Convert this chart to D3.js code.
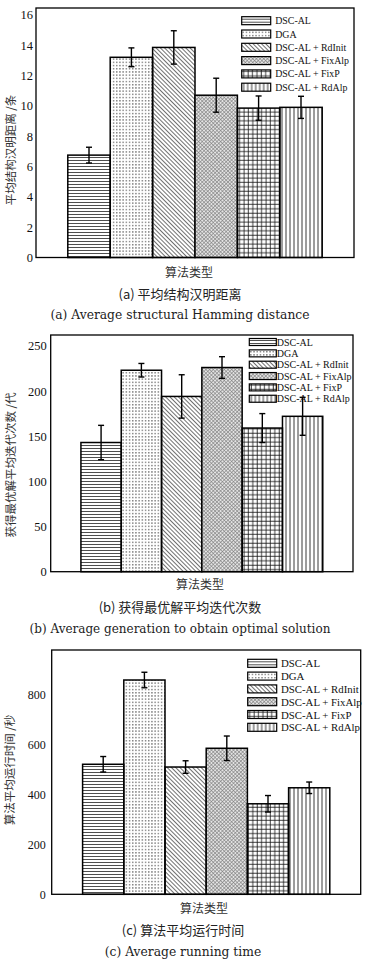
<!DOCTYPE html>
<html><head><meta charset="utf-8">
<script src="https://cdn.jsdelivr.net/npm/d3@7"></script>
<style>body{margin:0;background:#fff}svg{display:block}</style>
</head><body>
<script>
// ---- data ----
const categories = ["DSC-AL","DGA","DSC-AL + RdInit","DSC-AL + FixAlp","DSC-AL + FixP","DSC-AL + RdAlp"];
const hammingMean = [6.75, 13.2, 13.85, 10.7, 9.85, 9.9];
const hammingErr  = [0.52, 0.62, 1.1, 1.12, 0.8, 0.73];
const genMean = [143, 223, 194, 226, 159, 172];
const genErr  = [19, 7.5, 24, 12, 16, 21];
const timeMean = [520, 857, 509, 584, 362, 426];
const timeErr  = [31, 31, 25, 49, 33, 23];
const ticksA = [0,2,4,6,8,10,12,14,16];
const ticksB = [0,50,100,150,200,250];
const ticksC = [0,200,400,600,800];
const yLabels = ["平均结构汉明距离 /条","获得最优解平均迭代次数 /代","算法平均运行时间 /秒"];
const xLabel = "算法类型";
const captionsZh = ["(a) 平均结构汉明距离","(b) 获得最优解平均迭代次数","(c) 算法平均运行时间"];
const captionsEn = ["(a) Average structural Hamming distance","(b) Average generation to obtain optimal solution","(c) Average running time"];
const patternIds = ["p-h","p-dot","p-diag","p-cross","p-grid","p-v"];

const svg = d3.select("body").append("svg").attr("width",369).attr("height",969);
const defs = svg.append("defs");
// patterns
let p = defs.append("pattern").attr("id","p-h").attr("patternUnits","userSpaceOnUse").attr("width",4).attr("height",3);
p.append("line").attr("x1",0).attr("x2",4).attr("y1",1.5).attr("y2",1.5).attr("stroke","#222").attr("stroke-width",0.8);
p = defs.append("pattern").attr("id","p-dot").attr("patternUnits","userSpaceOnUse").attr("width",3.2).attr("height",3.2);
p.append("rect").attr("x",1).attr("y",1).attr("width",1.1).attr("height",1.1).attr("fill","#222");
p = defs.append("pattern").attr("id","p-diag").attr("patternUnits","userSpaceOnUse").attr("width",3).attr("height",3).attr("patternTransform","rotate(-45)");
p.append("line").attr("x1",1.5).attr("x2",1.5).attr("y1",0).attr("y2",3).attr("stroke","#333").attr("stroke-width",0.7);
p = defs.append("pattern").attr("id","p-cross").attr("patternUnits","userSpaceOnUse").attr("width",2.6).attr("height",2.6).attr("patternTransform","rotate(45)");
p.append("rect").attr("width",2.6).attr("height",2.6).attr("fill","#e6e6e6");
p.append("line").attr("x1",1.3).attr("x2",1.3).attr("y1",0).attr("y2",2.6).attr("stroke","#7a7a7a").attr("stroke-width",0.6);
p.append("line").attr("y1",1.3).attr("y2",1.3).attr("x1",0).attr("x2",2.6).attr("stroke","#7a7a7a").attr("stroke-width",0.6);
p = defs.append("pattern").attr("id","p-grid").attr("patternUnits","userSpaceOnUse").attr("width",4.4).attr("height",4.4);
p.append("line").attr("x1",2).attr("x2",2).attr("y1",0).attr("y2",4.4).attr("stroke","#111").attr("stroke-width",0.8);
p.append("line").attr("y1",2).attr("y2",2).attr("x1",0).attr("x2",4.4).attr("stroke","#111").attr("stroke-width",0.8);
p = defs.append("pattern").attr("id","p-v").attr("patternUnits","userSpaceOnUse").attr("width",4).attr("height",4);
p.append("line").attr("x1",2).attr("x2",2).attr("y1",0).attr("y2",4).attr("stroke","#222").attr("stroke-width",0.9);

const serif = "'Liberation Serif','Times New Roman',serif";
const cjk = "'Noto Sans CJK SC','Noto Sans CJK JP',sans-serif";
const capEn = "'DejaVu Serif','Liberation Serif',serif";

function drawPanel(cfg, means, errs, ticks, idx){
  const g = svg.append("g");
  const x = d3.scaleBand().domain(categories).range([cfg.left,cfg.right]).paddingInner(0).paddingOuter(0.75);
  const y = d3.scaleLinear().domain([0,cfg.ymax]).range([cfg.bottom,cfg.top]);
  // bars
  g.selectAll(".bar").data(categories).join("rect")
    .attr("x",d=>x(d)).attr("width",x.bandwidth())
    .attr("y",(d,i)=>y(means[i])).attr("height",(d,i)=>y(0)-y(means[i]))
    .attr("fill",(d,i)=>`url(#${patternIds[i]})`).attr("stroke","#000").attr("stroke-width",1.5);
  // error bars
  const eb = g.selectAll(".eb").data(categories).join("g");
  eb.append("line").attr("x1",d=>x(d)+x.bandwidth()/2).attr("x2",d=>x(d)+x.bandwidth()/2)
    .attr("y1",(d,i)=>y(means[i]+errs[i])).attr("y2",(d,i)=>y(means[i]-errs[i])).attr("stroke","#000").attr("stroke-width",1.4);
  [1,-1].forEach(s=>{
    eb.append("line").attr("x1",d=>x(d)+x.bandwidth()/2-3).attr("x2",d=>x(d)+x.bandwidth()/2+3)
      .attr("y1",(d,i)=>y(means[i]+s*errs[i])).attr("y2",(d,i)=>y(means[i]+s*errs[i])).attr("stroke","#000").attr("stroke-width",1.4);
  });
  // frame
  g.append("rect").attr("x",cfg.left).attr("y",cfg.top).attr("width",cfg.right-cfg.left).attr("height",cfg.bottom-cfg.top)
    .attr("fill","none").attr("stroke","#000").attr("stroke-width",1.3);
  // y axis tick labels
  const ax = d3.axisLeft(y).tickValues(ticks).tickSize(0).tickPadding(cfg.tickPad);
  const axg = g.append("g").attr("transform",`translate(${cfg.left},0)`).call(ax);
  axg.attr("font-family",serif).attr("font-size",cfg.tickFs);
  axg.select(".domain").remove();
  axg.selectAll("text").attr("fill","#111");
  // y label
  g.append("text").attr("transform",`translate(${cfg.ylabX},${cfg.ylabY}) rotate(-90)`).attr("text-anchor","middle")
    .attr("dominant-baseline","central").attr("font-family",cjk).attr("font-size",11.5).attr("fill","#333").text(yLabels[idx]);
  // x label
  g.append("text").attr("x",cfg.xlabX).attr("y",cfg.xlabY).attr("text-anchor","middle").attr("dominant-baseline","central")
    .attr("font-family",cjk).attr("font-size",12).attr("fill","#333").text(xLabel);
  // captions
  g.append("text").attr("x",cfg.capX).attr("y",cfg.capZhY).attr("text-anchor","middle").attr("dominant-baseline","central")
    .attr("font-family",cjk).attr("font-size",13).attr("fill","#222").text(captionsZh[idx]);
  g.append("text").attr("x",cfg.capX).attr("y",cfg.capEnY).attr("text-anchor","middle").attr("dominant-baseline","central")
    .attr("font-family",capEn).attr("font-size",cfg.capEnFs).attr("fill","#222").text(captionsEn[idx]);
  // legend
  const lg = g.selectAll(".lg").data(categories).join("g")
    .attr("transform",(d,i)=>`translate(${cfg.legX},${cfg.legY + i*cfg.legStep})`);
  lg.append("rect").attr("x",0).attr("y",-cfg.swH/2).attr("width",cfg.swW).attr("height",cfg.swH)
    .attr("fill",(d,i)=>`url(#${patternIds[i]})`).attr("stroke","#000").attr("stroke-width",1.2);
  lg.append("text").attr("x",cfg.legTx).attr("y",0).attr("dominant-baseline","central")
    .attr("font-family",serif).attr("font-size",cfg.legFs).attr("fill","#111").text(d=>d);
}

drawPanel({left:36,right:354,top:8,bottom:257.5,ymax:16.45,tickPad:3,tickFs:12.5,ylabX:10,ylabY:150,xlabX:189,xlabY:271,
  capX:180,capZhY:293,capEnY:315,capEnFs:12.3,legX:241.7,legY:20.7,legStep:13.3,swW:29,swH:8,legTx:33.5,legFs:9.9},
  hammingMean,hammingErr,ticksA,0);
drawPanel({left:50.7,right:353,top:335,bottom:571.7,ymax:262,tickPad:4,tickFs:12.5,ylabX:10,ylabY:465,xlabX:200,xlabY:583.5,
  capX:180,capZhY:606,capEnY:629,capEnFs:12,legX:249.3,legY:342,legStep:11.35,swW:27,swH:7,legTx:27.4,legFs:10},
  genMean,genErr,ticksB,1);
drawPanel({left:51.7,right:360.7,top:650,bottom:894.3,ymax:977,tickPad:6,tickFs:12,ylabX:9,ylabY:770,xlabX:204,xlabY:907,
  capX:183,capZhY:929,capEnY:952,capEnFs:12.3,legX:247.7,legY:663.3,legStep:12.8,swW:29,swH:8,legTx:33.3,legFs:10.8},
  timeMean,timeErr,ticksC,2);
</script>
</body></html>
